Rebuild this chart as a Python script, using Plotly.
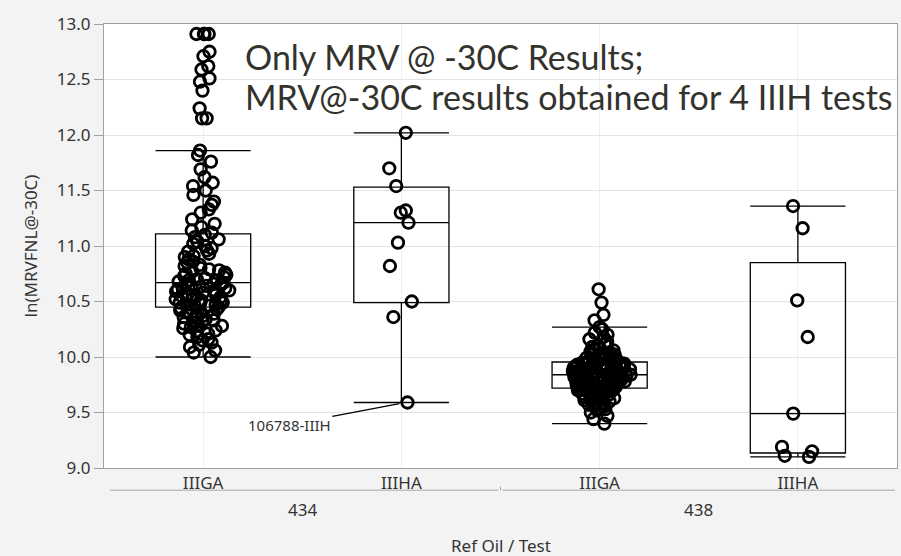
import plotly.graph_objects as go

# Reference oil / test grouping
oils = ["434", "434", "438", "438"]
tests = ["IIIGA", "IIIHA", "IIIGA", "IIIHA"]

# Box summary statistics per group
q1 = [10.45, 10.49, 9.72, 9.135]
median = [10.67, 11.21, 9.84, 9.49]
q3 = [11.11, 11.53, 9.955, 10.85]
lowerfence = [10.00, 9.59, 9.40, 9.10]
upperfence = [11.86, 12.02, 10.27, 11.36]

# Individual ln(MRV) results per group
vals_434_iiiga = [
    12.91, 12.91, 12.91, 12.91, 12.75, 12.71, 12.62, 12.59, 12.51, 12.48, 12.40, 12.24, 12.15, 12.15,
    11.86, 11.82, 11.76, 11.69, 11.62, 11.57, 11.54, 11.50, 11.46, 11.40, 11.37, 11.33, 11.30, 11.24,
    11.20, 11.17, 11.14, 11.12,
    11.10, 11.08, 11.06, 11.04, 11.02, 11.00, 10.98, 10.96, 10.95, 10.93, 10.91, 10.90, 10.88, 10.86,
    10.85, 10.83, 10.82, 10.80, 10.79, 10.78, 10.77, 10.76, 10.75, 10.74, 10.73, 10.72, 10.71, 10.70,
    10.69, 10.69, 10.68, 10.67,
    10.66, 10.66, 10.65, 10.64, 10.64, 10.63, 10.62, 10.62, 10.61, 10.60, 10.60, 10.59, 10.58, 10.58,
    10.57, 10.56, 10.55, 10.55, 10.54, 10.53, 10.52, 10.52, 10.51, 10.50, 10.49, 10.49, 10.48, 10.47,
    10.47, 10.46, 10.46, 10.45,
    10.44, 10.43, 10.42, 10.41, 10.40, 10.39, 10.38, 10.37, 10.36, 10.35, 10.34, 10.33, 10.32, 10.31,
    10.30, 10.29, 10.28, 10.27, 10.26, 10.24, 10.23, 10.21, 10.20, 10.18, 10.16, 10.15, 10.13, 10.11,
    10.09, 10.06, 10.04, 10.00,
]
vals_434_iiiha = [12.02, 11.70, 11.54, 11.32, 11.30, 11.21, 11.03, 10.82, 10.50, 10.36, 9.59]
vals_438_iiiga = [
    10.61, 10.49, 10.38, 10.33,
    10.27, 10.25, 10.22, 10.20, 10.18, 10.16, 10.14, 10.12, 10.10, 10.09, 10.08, 10.07, 10.06, 10.05,
    10.04, 10.04, 10.03, 10.02, 10.02, 10.01, 10.00, 10.00, 9.99, 9.99, 9.98, 9.98, 9.97, 9.97, 9.97,
    9.96, 9.96, 9.96, 9.96,
    9.95, 9.95, 9.95, 9.94, 9.94, 9.94, 9.93, 9.93, 9.93, 9.92, 9.92, 9.92, 9.91, 9.91, 9.91, 9.90,
    9.90, 9.90, 9.90, 9.89, 9.89, 9.89, 9.89, 9.88, 9.88, 9.88, 9.88, 9.87, 9.87, 9.87, 9.87, 9.86,
    9.86, 9.86, 9.86, 9.85, 9.85, 9.85, 9.85, 9.84, 9.84,
    9.84, 9.84, 9.83, 9.83, 9.83, 9.83, 9.82, 9.82, 9.82, 9.82, 9.81, 9.81, 9.81, 9.80, 9.80, 9.80,
    9.80, 9.79, 9.79, 9.79, 9.78, 9.78, 9.78, 9.77, 9.77, 9.77, 9.76, 9.76, 9.76, 9.75, 9.75, 9.75,
    9.74, 9.74, 9.74, 9.73, 9.73, 9.73, 9.72, 9.72,
    9.71, 9.71, 9.71, 9.70, 9.70, 9.70, 9.69, 9.69, 9.68, 9.68, 9.67, 9.67, 9.66, 9.66, 9.65, 9.65,
    9.64, 9.63, 9.63, 9.62, 9.61, 9.60, 9.59, 9.58, 9.57, 9.56, 9.55, 9.54, 9.53, 9.52, 9.50, 9.47,
    9.44, 9.40,
]
vals_438_iiiha = [11.36, 11.16, 10.51, 10.18, 9.49, 9.19, 9.15, 9.11, 9.10]

group_values = [vals_434_iiiga, vals_434_iiiha, vals_438_iiiga, vals_438_iiiha]
group_jitter = [0.6, 0.35, 0.66, 0.45]

y_ticks = [9.0, 9.5, 10.0, 10.5, 11.0, 11.5, 12.0, 12.5, 13.0]

labeled_point = {"group": 1, "value": 9.59, "text": "106788-IIIH"}

title_lines = ["Only MRV @ -30C Results;", "MRV@-30C results obtained for 4 IIIH tests"]

ids = [f"{o} {t}" for o, t in zip(oils, tests)]

TEXT = "#333333"
UI_FONT = "Noto Sans"
UI_SIZE = 17
BOX_W = 0.48

fig = go.Figure()

# Quantile boxes with whisker caps spanning the box width
fig.add_trace(go.Box(
    x=ids, q1=q1, median=median, q3=q3,
    lowerfence=lowerfence, upperfence=upperfence,
    width=BOX_W, whiskerwidth=1, boxpoints=False,
    fillcolor="rgba(0,0,0,0)",
    line=dict(color="black", width=1.3),
    hoverinfo="skip", showlegend=False,
))

# Jittered open-circle points for each group
for gid, vals, jit in zip(ids, group_values, group_jitter):
    fig.add_trace(go.Box(
        x=[gid] * len(vals), y=vals,
        boxpoints="all", jitter=jit, pointpos=0, width=BOX_W,
        fillcolor="rgba(0,0,0,0)",
        line=dict(color="rgba(0,0,0,0)", width=0),
        whiskerwidth=0,
        marker=dict(symbol="circle-open", size=11.5, color="black",
                    line=dict(width=2.8, color="black")),
        showlegend=False,
    ))

fig.update_layout(
    width=901, height=556,
    margin=dict(l=104, r=4, t=24, b=88),
    paper_bgcolor="#f3f3f3",
    plot_bgcolor="white",
    boxmode="overlay",
    showlegend=False,
    font=dict(family=UI_FONT, color=TEXT),
)

fig.update_yaxes(
    range=[9, 13], tickvals=y_ticks, tickformat=".1f",
    ticks="outside", ticklen=9, tickcolor="#a0a0a0",
    tickfont=dict(size=UI_SIZE, color=TEXT),
    showgrid=True, gridcolor="#e4e4e4", gridwidth=1,
    showline=True, linecolor="#a0a0a0", linewidth=1, mirror=True,
    zeroline=False,
    title=dict(text="ln(MRVFNL@-30C)", font=dict(size=17, color=TEXT), standoff=14),
)

fig.update_xaxes(
    type="category", categoryorder="array", categoryarray=ids,
    tickvals=ids, ticktext=tests, ticks="",
    tickfont=dict(size=UI_SIZE, color=TEXT),
    range=[-0.5, 3.5],
    showgrid=True, gridcolor="#f0f0f0",
    showline=True, linecolor="#a0a0a0", linewidth=1, mirror=True,
)

# Group (ref oil) labels with separator lines under the test labels
line_y = -0.05
for i, oil in enumerate(["434", "438"]):
    x0 = 2 * i - 0.47 if i == 0 else 2 * i - 0.49
    x1 = 2 * i + 1.49
    fig.add_shape(type="line", xref="x", yref="paper", x0=x0, x1=x1, y0=line_y, y1=line_y,
                  line=dict(color="#a8a8a8", width=1))
    fig.add_annotation(xref="x", yref="paper", x=2 * i + 0.5, y=-0.093, text=oil,
                       showarrow=False, font=dict(size=UI_SIZE, color=TEXT),
                       xanchor="center", yanchor="middle")
fig.add_shape(type="line", xref="x", yref="paper", x0=1.5, x1=1.5, y0=line_y, y1=line_y + 0.008,
              line=dict(color="#a8a8a8", width=1))

fig.add_annotation(xref="paper", yref="paper", x=0.5, y=-0.175, text="Ref Oil / Test",
                   showarrow=False, font=dict(size=UI_SIZE, color=TEXT),
                   xanchor="center", yanchor="middle")

# Label for a single IIIH result
fig.add_annotation(
    x=labeled_point["group"] + 0.02, y=labeled_point["value"],
    xref="x", yref="y",
    text=labeled_point["text"], showarrow=True, arrowhead=0, arrowwidth=1.2,
    arrowcolor="black", ax=-116, ay=22, standoff=6,
    font=dict(size=15, color=TEXT),
)

# Overlaid note text
for line, ypos in zip(title_lines, [0.926, 0.836]):
    fig.add_annotation(xref="paper", yref="paper", x=(243 - 104) / 793, y=ypos,
                       text=line, showarrow=False, xanchor="left", yanchor="middle",
                       font=dict(family="Lato", size=34, color="#33332e"))

fig.write_html("out.html")
